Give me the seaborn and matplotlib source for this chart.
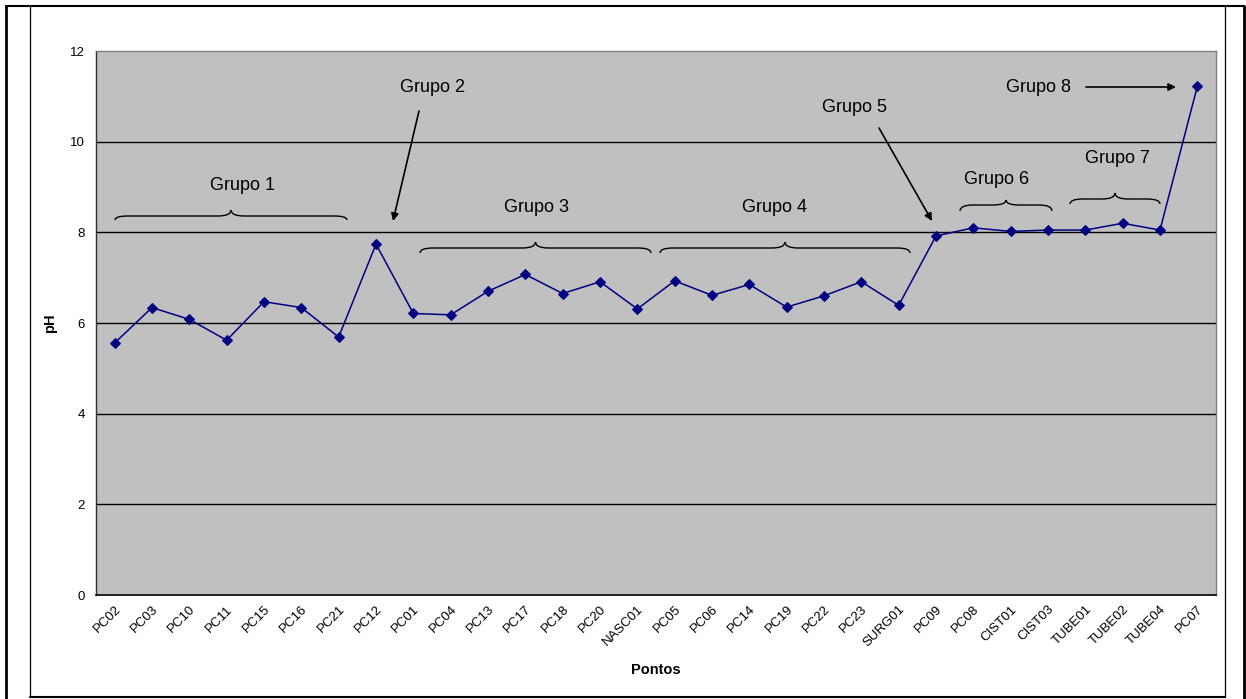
import numpy as np
import pandas as pd
import matplotlib
matplotlib.use('Agg')
import matplotlib.pyplot as plt
import seaborn as sns
from matplotlib.path import Path
from matplotlib.patches import PathPatch
from matplotlib.lines import Line2D

pontos = ['PC02', 'PC03', 'PC10', 'PC11', 'PC15', 'PC16', 'PC21', 'PC12', 'PC01',
          'PC04', 'PC13', 'PC17', 'PC18', 'PC20', 'NASC01', 'PC05', 'PC06', 'PC14',
          'PC19', 'PC22', 'PC23', 'SURG01', 'PC09', 'PC08', 'CIST01', 'CIST03',
          'TUBE01', 'TUBE02', 'TUBE04', 'PC07']
ph = [5.56, 6.34, 6.08, 5.62, 6.47, 6.34, 5.69, 7.74, 6.21, 6.18, 6.70, 7.07,
      6.65, 6.91, 6.31, 6.93, 6.61, 6.85, 6.35, 6.60, 6.91, 6.39, 7.92, 8.10,
      8.02, 8.05, 8.05, 8.20, 8.05, 11.22]
yticks = [0, 2, 4, 6, 8, 10, 12]

sns.set_style('white')
plt.rcParams['font.family'] = ['Liberation Sans', 'DejaVu Sans']
plt.rcParams['text.color'] = 'black'
plt.rcParams['axes.labelcolor'] = 'black'
plt.rcParams['xtick.color'] = 'black'
plt.rcParams['ytick.color'] = 'black'

W, H = 1246, 699
fig = plt.figure(figsize=(W / 100, H / 100), dpi=100)
fig.patch.set_facecolor('white')

# outer frame lines (figure pixels)
def fline(x0, y0, x1, y1, lw):
    fig.add_artist(Line2D([x0 / W, x1 / W], [1 - y0 / H, 1 - y1 / H],
                          transform=fig.transFigure, color='black', lw=lw))

fline(6, 6, 6, 699, 2.0)
fline(6, 6, 1244, 6, 1.5)
fline(1244, 6, 1244, 699, 2.0)
fline(30, 6, 30, 697, 0.9)
fline(30, 697, 1225, 697, 1.5)
fline(1225, 6, 1225, 697, 0.9)

n = len(pontos)
ax = fig.add_axes([96 / W, 104 / H, 1120 / W, 544 / H])
df = pd.DataFrame({'idx': np.arange(n), 'pH': ph})
sns.lineplot(data=df, x='idx', y='pH', ax=ax, color='#000080', marker='D',
             markersize=5.5, markeredgecolor='#000080', linewidth=1.1, zorder=3)
ax.set_facecolor('#C0C0C0')
ax.set_xlim(-0.5, n - 0.5)
ax.set_ylim(0, 12)
ax.set_yticks(yticks)
ax.set_yticklabels([str(v) for v in yticks], fontsize=9.5)
for y in yticks[1:-1]:
    ax.axhline(y, color='black', lw=1.0, zorder=1)

ax.set_xticks(np.arange(n))
ax.set_xticklabels(pontos, rotation=45, ha='right', va='top',
                   rotation_mode='anchor', fontsize=9.5)
ax.set_xticks(np.arange(n + 1) - 0.5, minor=True)
ax.tick_params(axis='x', which='major', length=0, pad=6)
ax.tick_params(axis='x', which='minor', length=5, width=0.8, color='black')
ax.tick_params(axis='y', which='major', length=5, width=0.8, color='black', pad=3)

for s in ['top', 'right']:
    ax.spines[s].set_color('#808080')
    ax.spines[s].set_linewidth(1.0)
ax.spines['left'].set_color('#303030')
ax.spines['bottom'].set_color('black')
ax.spines['left'].set_linewidth(1.0)
ax.spines['bottom'].set_linewidth(1.2)

ax.set_ylabel('pH', fontweight='bold', fontsize=10.5)
ax.yaxis.set_label_coords((57 - 96) / 1120, 0.5)
ax.set_xlabel('Pontos', fontweight='bold', fontsize=10.5)
ax.xaxis.set_label_coords(0.5, -(663 - 595) / 544)

# helpers: pixel -> data
step = 1120 / n

def px(x):
    return (x - 96) / step - 0.5

def py(y):
    return (595 - y) / (544 / 12)

def brace(x0, x1, yb, ym, yt):
    xm = (x0 + x1) / 2
    d = 0.35
    verts = [(x0, yb), (x0, ym), (x0 + d, ym), (xm - d, ym), (xm, ym), (xm, yt),
             (xm, ym), (xm + d, ym), (x1 - d, ym), (x1, ym), (x1, yb)]
    codes = [Path.MOVETO, Path.CURVE3, Path.CURVE3, Path.LINETO, Path.CURVE3, Path.CURVE3,
             Path.CURVE3, Path.CURVE3, Path.LINETO, Path.CURVE3, Path.CURVE3]
    ax.add_patch(PathPatch(Path(verts, codes), fill=False, lw=1.0,
                           edgecolor='black', zorder=4))

tfs = 13
def label(x, y, s):
    ax.text(px(x), py(y), s, fontsize=tfs, ha='center', va='center', zorder=5)

def arrow(x0, y0, x1, y1):
    ax.annotate('', xy=(px(x1), py(y1)), xytext=(px(x0), py(y0)),
                arrowprops=dict(arrowstyle='-|>', color='black', lw=1.2,
                                mutation_scale=11, shrinkA=0, shrinkB=0), zorder=5)

label(243, 186, 'Grupo 1')
brace(px(115), px(347), py(220), py(216), py(210))

label(432, 87, 'Grupo 2')
arrow(419, 111, 393, 221)

label(537, 207, 'Grupo 3')
brace(px(420), px(651), py(253), py(248), py(242))

label(775, 207, 'Grupo 4')
brace(px(660), px(910), py(253), py(248), py(242))

label(854, 107, 'Grupo 5')
arrow(879, 128, 932, 221)

label(997, 179, 'Grupo 6')
brace(px(960), px(1052), py(211), py(205), py(200))

label(1117, 158, 'Grupo 7')
brace(px(1070), px(1160), py(204), py(199), py(193))

label(1038, 87, 'Grupo 8')
arrow(1086, 87, 1176, 87)

fig.savefig('out.png', dpi=100)
